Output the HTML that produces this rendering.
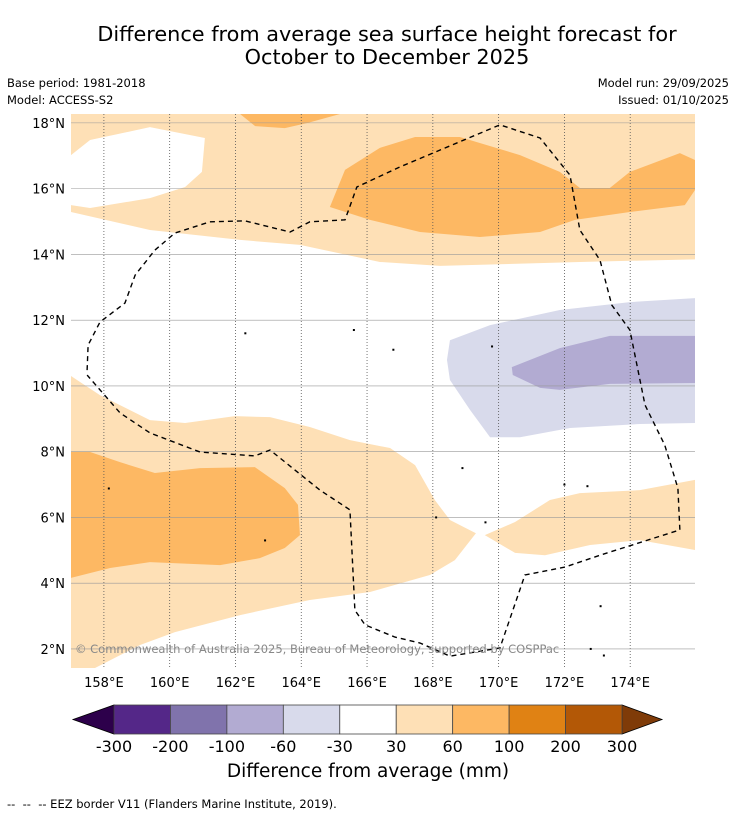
<!DOCTYPE html>
<html><head><meta charset="utf-8">
<style>
body{margin:0;background:#fff;font-family:"DejaVu Sans","Liberation Sans",sans-serif;}
#wrap{position:relative;width:736px;height:816px;overflow:hidden;}
.t{position:absolute;white-space:nowrap;color:#000;}
</style></head>
<body>
<div id="wrap">
<div class="t" style="left:0;width:774px;text-align:center;top:22px;font-size:20.8px;">Difference from average sea surface height forecast for</div>
<div class="t" style="left:0;width:774px;text-align:center;top:45px;font-size:20.8px;">October to December 2025</div>
<div class="t" style="left:7px;top:76px;font-size:11.5px;">Base period: 1981-2018</div>
<div class="t" style="left:7px;top:93px;font-size:11.5px;">Model: ACCESS-S2</div>
<div class="t" style="right:7px;top:76px;font-size:11.5px;">Model run: 29/09/2025</div>
<div class="t" style="right:7px;top:93px;font-size:11.5px;">Issued: 01/10/2025</div>
<svg id="svg" width="736" height="816" style="position:absolute;left:0;top:0"></svg>
<div class="t" style="left:0;width:736px;text-align:center;top:761px;font-size:18.5px;">Difference from average (mm)</div>
<div class="t" style="left:7px;top:797px;font-size:11.5px;">--&nbsp; --&nbsp; -- EEZ border V11 (Flanders Marine Institute, 2019).</div>
</div>
<script>
const lonTicks=[158,160,162,164,166,168,170,172,174];
const latTicks=[2,4,6,8,10,12,14,16,18];
const cbLevels=[-300,-200,-100,-60,-30,30,60,100,200,300];
const cbColors=["#542788","#8073ac","#b2abd2","#d8daeb","#ffffff","#fee0b6","#fdb863","#e08214","#b35806"];
const cbExtendLow="#2d004b", cbExtendHigh="#7f3b08";
const lightOrangeTop=[[157,18.27],[176,18.27],[175.97,13.85],[172.47,13.77],[168.22,13.65],[166.39,13.77],[163.96,14.29],[162.14,14.44],[159.4,14.74],[157,15.29]];
const whiteHoleTL=[[157,17.02],[157.58,17.48],[159.4,17.87],[161.07,17.54],[160.98,16.51],[160.47,16.05],[159.4,15.71],[157.58,15.41],[157,15.5]];
const orangeTopSmall=[[162.14,18.27],[165.18,18.27],[164.2,18.0],[163.5,17.84],[162.6,17.9]];
const orangeTopBig=[[164.87,15.44],[165.33,16.57],[166.39,17.24],[167.46,17.57],[168.82,17.57],[170.65,17.02],[171.86,16.51],[172.47,16.02],[173.38,16.02],[173.99,16.51],[175.51,17.08],[175.97,16.87],[175.97,15.96],[175.66,15.5],[173.99,15.29],[172.32,15.05],[171.26,14.68],[169.43,14.53],[167.61,14.68],[166.09,15.05]];
const lightOrangeLow=[[157,10.3],[157.88,9.72],[159.4,8.96],[160.47,8.87],[161.98,9.08],[163.05,9.05],[164.26,8.75],[165.48,8.35],[166.7,8.11],[167.46,7.59],[168.06,6.53],[168.52,5.92],[169.31,5.52],[168.67,4.7],[167.91,4.25],[166.09,3.73],[164.26,3.49],[162.14,3.03],[160.16,2.51],[159.1,2.12],[157.73,1.42],[157,1.42]];
const lightOrangeRight=[[169.58,5.46],[170.5,5.86],[171.56,6.53],[172.47,6.74],[174.29,6.83],[175.97,7.14],[175.97,5.01],[174.29,5.31],[172.78,5.16],[171.41,4.85],[170.5,4.92]];
const orangeLowLeft=[[157,7.99],[157.58,7.99],[158.49,7.68],[159.55,7.35],[160.92,7.5],[162.59,7.53],[163.5,6.89],[163.9,6.38],[163.96,5.46],[163.5,5.07],[162.74,4.76],[161.53,4.55],[159.4,4.64],[158.19,4.46],[157,4.16]];
const lavenderLight=[[168.52,11.39],[169.74,11.85],[171.86,12.31],[173.99,12.55],[175.97,12.67],[175.97,8.87],[174.29,8.84],[172.17,8.72],[170.65,8.44],[169.74,8.44],[169.13,9.27],[168.52,10.18],[168.43,10.79]];
const lavenderDark=[[170.4,10.57],[171.86,11.15],[173.38,11.52],[175.97,11.52],[175.97,10.09],[173.38,10.06],[171.86,9.88],[171.26,9.94],[170.43,10.33]];
const eez=[[157.49,10.48],[157.52,11.24],[157.88,11.94],[158.64,12.52],[158.95,13.37],[159.55,14.13],[160.16,14.65],[161.22,14.99],[162.29,15.02],[163.66,14.68],[164.26,14.99],[165.33,15.05],[165.69,16.05],[167.0,16.66],[170.04,17.94],[171.26,17.54],[172.17,16.41],[172.47,14.74],[173.08,13.83],[173.44,12.46],[173.99,11.7],[174.45,9.42],[175.05,8.2],[175.45,6.89],[175.51,5.62],[173.08,4.85],[172.02,4.49],[170.8,4.25],[170.04,2.03],[168.52,1.78],[167.61,2.18],[166.85,2.36],[165.94,2.73],[165.63,3.18],[165.48,6.23],[164.57,6.83],[163.05,8.05],[162.59,7.87],[160.92,7.99],[159.4,8.57],[158.49,9.18],[157.49,10.33]];
const islands=[[158.15,6.88],[162.9,5.3],[173.1,3.3],[172.0,7.0],[172.7,6.95],[168.9,7.5],[162.3,11.6],[165.6,11.7],[166.8,11.1],[169.8,11.2],[168.1,6.0],[169.6,5.85],[172.8,2.0],[173.2,1.8]];

const NS="http://www.w3.org/2000/svg";
const svg=document.getElementById('svg');
const X0=71,X1=695,Y0=114,Y1=668,LON0=157,LON1=175.97,LAT0=1.42,LAT1=18.27;
const x=lon=>X0+(lon-LON0)/(LON1-LON0)*(X1-X0);
const y=lat=>Y1-(lat-LAT0)/(LAT1-LAT0)*(Y1-Y0);
function mk(tag,attrs,parent){const e=document.createElementNS(NS,tag);for(const k in attrs)e.setAttribute(k,attrs[k]);(parent||svg).appendChild(e);return e;}
const defs=mk('defs',{});const cp=mk('clipPath',{id:'mc'},defs);mk('rect',{x:X0,y:Y0,width:X1-X0,height:Y1-Y0},cp);
const g=mk('g',{'clip-path':'url(#mc)'});
function poly(pts,fill,name){const p=mk('polygon',{points:pts.map(q=>x(q[0])+','+y(q[1])).join(' '),fill:fill},g);

return p;}
poly(lightOrangeTop,cbColors[5],'contour-30-60-north');
poly(whiteHoleTL,'#ffffff','contour-neutral-northwest');
poly(orangeTopSmall,cbColors[6],'contour-60-100-north-small');
poly(orangeTopBig,cbColors[6],'contour-60-100-north');
poly(lightOrangeLow,cbColors[5],'contour-30-60-south');
poly(lightOrangeRight,cbColors[5],'contour-30-60-southeast');
poly(orangeLowLeft,cbColors[6],'contour-60-100-southwest');
poly(lavenderLight,cbColors[3],'contour-neg30-neg60');
poly(lavenderDark,cbColors[2],'contour-neg60-neg100');
lonTicks.forEach(v=>{const l=mk('line',{x1:x(v),x2:x(v),y1:Y0,y2:Y1,stroke:'#555','stroke-width':0.8,'stroke-dasharray':'1,2'},g);


const t=mk('text',{x:x(v),y:687,'text-anchor':'middle','font-size':13});t.textContent=v+'°E';

});
latTicks.forEach(v=>{const l=mk('line',{x1:X0,x2:X1,y1:y(v),y2:y(v),stroke:'#999','stroke-width':0.6},g);


const t=mk('text',{x:65,y:y(v)+5,'text-anchor':'end','font-size':13});t.textContent=v+'°N';

});
islands.forEach((q,i)=>{const c=mk('rect',{x:x(q[0])-1,y:y(q[1])-1,width:2,height:2,fill:'#000'},g);

});
const e=mk('polyline',{points:eez.map(q=>x(q[0])+','+y(q[1])).join(' '),fill:'none',stroke:'#000','stroke-width':1.4,'stroke-dasharray':'5,4'},g);


const cr=mk('text',{x:75,y:653,'font-size':11.5,fill:'#888'});cr.textContent='© Commonwealth of Australia 2025, Bureau of Meteorology, supported by COSPPac';


const CB0=114,CB1=622,CBY=705,CBH=29;
const bw=(CB1-CB0)/cbColors.length;
const lo=mk('polygon',{points:`${CB0},${CBY} ${CB0},${CBY+CBH} 73,${CBY+CBH/2}`,fill:cbExtendLow,stroke:'#000','stroke-width':0.8});


const hi=mk('polygon',{points:`${CB1},${CBY} ${CB1},${CBY+CBH} 662,${CBY+CBH/2}`,fill:cbExtendHigh,stroke:'#000','stroke-width':0.8});


cbColors.forEach((c,i)=>{const r=mk('rect',{x:CB0+i*bw,y:CBY,width:bw,height:CBH,fill:c,stroke:'#444','stroke-width':0.8});

});
cbLevels.forEach((v,i)=>{const t=mk('text',{x:CB0+i*bw,y:752,'text-anchor':'middle','font-size':16});t.textContent=v;

});
</script>
</body></html>
